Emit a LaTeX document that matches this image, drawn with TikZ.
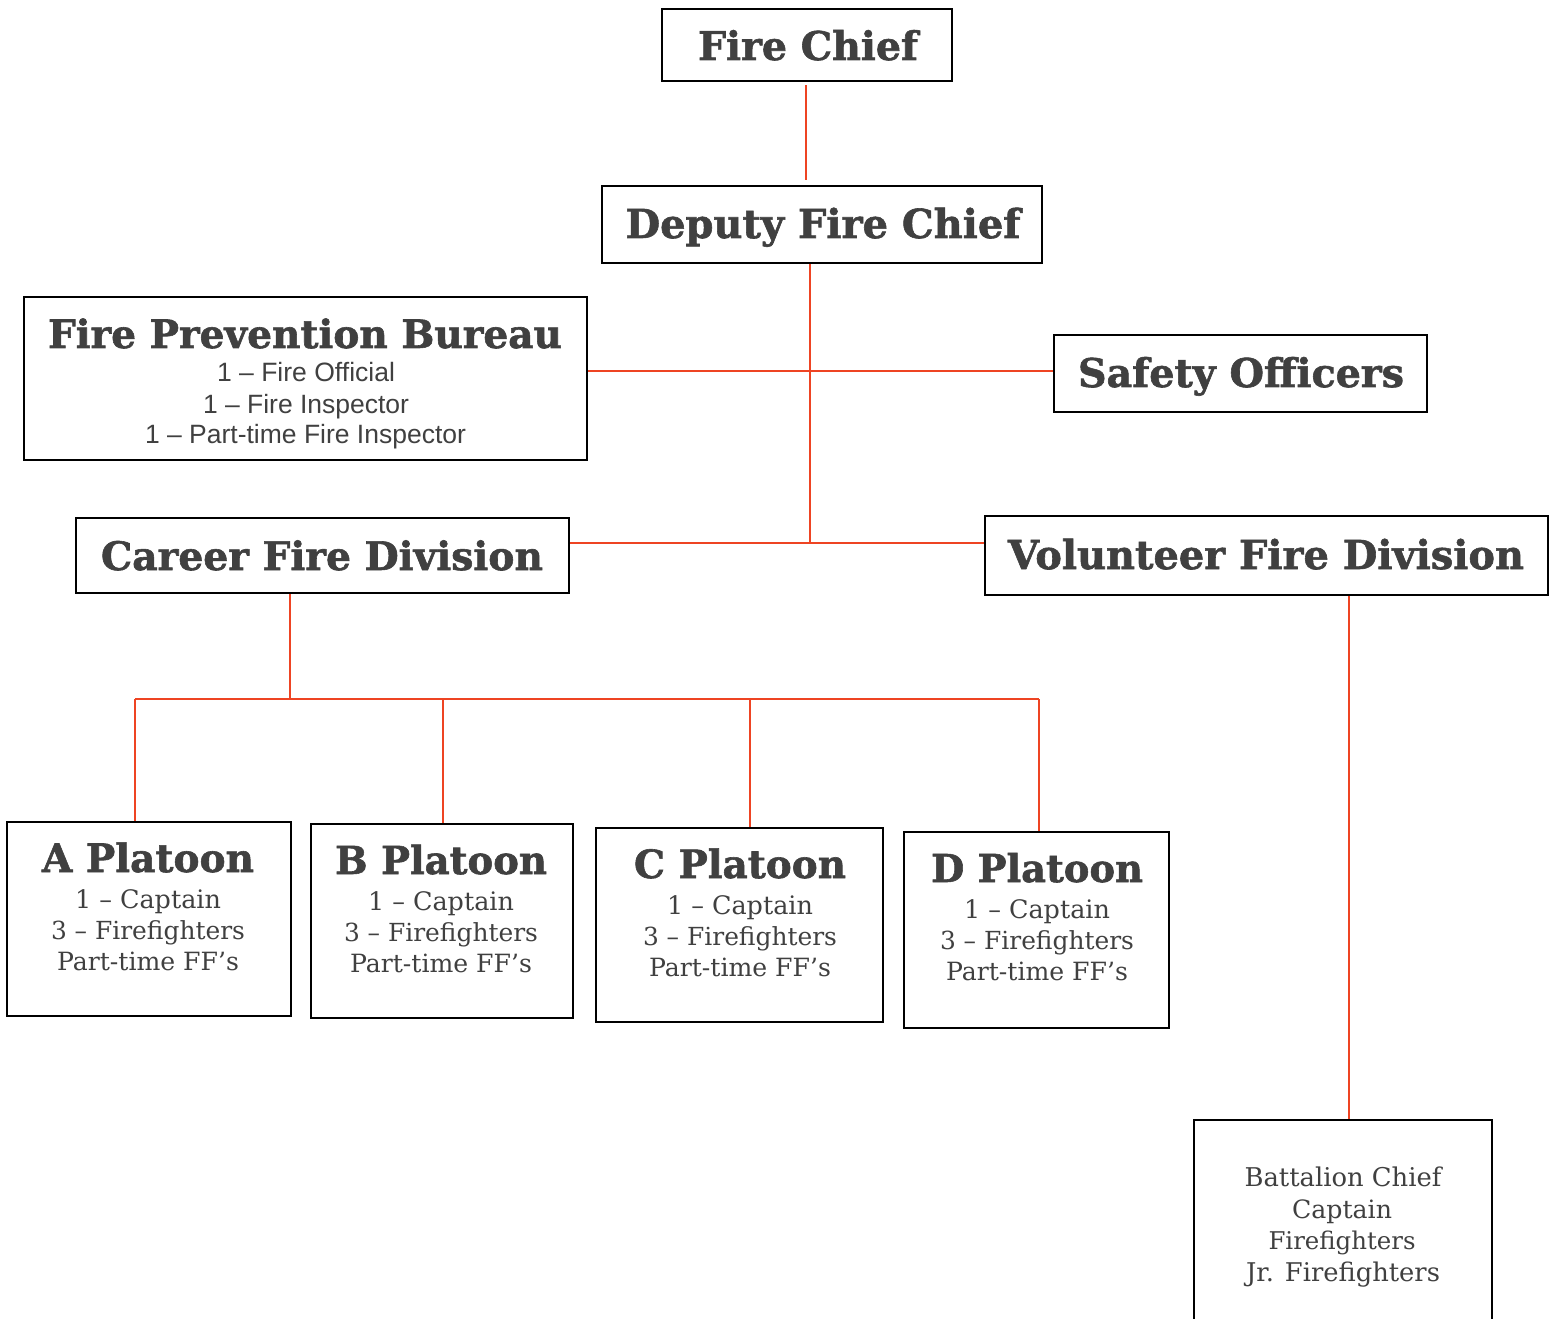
\documentclass[tikz,border=0pt]{standalone}
\usepackage{fontspec}
\setmainfont{DejaVu Serif}
\newfontfamily\serif{DejaVu Serif}
\newfontfamily\heavy{DejaVu Serif Bold}[RawFeature={embolden=1.5}]
\newfontfamily\sans{Liberation Sans}
\definecolor{linered}{HTML}{EE4423}
\definecolor{txtgray}{HTML}{404040}
\newsavebox\fitbox
\newcommand\fitw[3]{\sbox\fitbox{#2\fontsize{10pt}{12pt}\selectfont #3}%
  \pgfmathsetmacro\fitfs{7.5*#1/\wd\fitbox}%
  {#2\fontsize{\fitfs pt}{\fitfs pt}\selectfont #3}}
\newcommand\hd{\heavy}
\newcommand\bd{\serif}
\begin{document}
\begin{tikzpicture}[x=0.75pt,y=-0.75pt,
  box/.style n args={2}{draw=black,line width=1.5pt,inner sep=0pt,
     minimum width=#1*0.75pt,minimum height=#2*0.75pt},
  tx/.style={anchor=base,inner sep=0pt,text=txtgray},
  conn/.style={draw=linered,line width=1.4pt}]
\useasboundingbox (0,0) rectangle (1556,1319);
\clip (0,0) rectangle (1556,1319);
% boxes
\node[box={290}{72}]  (fc)  at (807,45) {};
\node[box={440}{77}]  (dfc) at (822,224.5) {};
\node[box={563}{163}] (fpb) at (305.5,378.5) {};
\node[box={373}{77}]  (so)  at (1240.5,373.5) {};
\node[box={493}{75}]  (cfd) at (322.5,555.5) {};
\node[box={563}{79}]  (vfd) at (1266.5,555.5) {};
\node[box={284}{194}] (pa)  at (149,919) {};
\node[box={262}{194}] (pb)  at (442,921) {};
\node[box={287}{194}] (pc)  at (739.5,925) {};
\node[box={265}{196}] (pd)  at (1036.5,930) {};
\node[box={298}{230}] (bc)  at (1343,1235) {};
% headings
\node[tx] (tfc)  at (808,60)   {\fitw{220}{\hd}{Fire Chief}};
\node[tx] (tdfc) at (823,238)  {\fitw{395}{\hd}{Deputy Fire Chief}};
\node[tx] (tfpb) at (305,348)  {\fitw{514}{\hd}{Fire Prevention Bureau}};
\node[tx] (tso)  at (1241,387) {\fitw{326}{\hd}{Safety Officers}};
\node[tx] (tcfd) at (322,570)  {\fitw{442}{\hd}{Career Fire Division}};
\node[tx] (tvfd) at (1266,569) {\fitw{516}{\hd}{Volunteer Fire Division}};
% fire prevention items
\node[tx] (f1) at (306,382) {\fitw{178}{\sans}{1 – Fire Official}};
\node[tx] (f2) at (306,413) {\fitw{206}{\sans}{1 – Fire Inspector}};
\node[tx] (f3) at (305.5,443) {\fitw{321}{\sans}{1 – Part-time Fire Inspector}};
% platoons
\foreach \n/\L/\cx/\by in {a/A/148/872, b/B/441/874, c/C/740/878, d/D/1037/882}{
  \node[tx] (h\n) at (\cx,\by) {\fitw{212}{\hd}{\L\ Platoon}};
  \node[tx] (\n1) at (\cx,\by+36) {\fitw{146}{\bd}{1 – Captain}};
  \node[tx] (\n2) at (\cx,\by+67) {\fitw{194}{\bd}{3 – Firefighters}};
  \node[tx] (\n3) at (\cx,\by+98) {\fitw{182}{\bd}{Part-time FF’s}};
}
% battalion
\node[tx] (b1) at (1343,1186) {\fitw{197}{\bd}{Battalion Chief}};
\node[tx] (b2) at (1342,1218) {\fitw{100}{\bd}{Captain}};
\node[tx] (b3) at (1342,1249) {\fitw{147}{\bd}{Firefighters}};
\node[tx] (b4) at (1343,1281) {\fitw{194}{\bd}{Jr. Firefighters}};
% junctions
\coordinate (j1) at (810,371);
\coordinate (j2) at (810,543);
\coordinate (j3) at (290,699);
\coordinate (ta) at (135,699);
\coordinate (tb) at (443,699);
\coordinate (tc) at (750,699);
\coordinate (td) at (1039,699);
\coordinate (tv) at (1349,600);
% connectors
\draw[conn] ([yshift=-2.5pt]fc.south -| 806,0) -- ([yshift=4pt]dfc.north -| 806,0);
\draw[conn] (dfc.south -| j2) -- (j2);
\draw[conn] (fpb.east |- j1) -- (so.west |- j1);
\draw[conn] (cfd.east |- j2) -- (vfd.west |- j2);
\draw[conn] (cfd.south -| j3) -- (j3);
\draw[conn] (ta) -- (td);
\draw[conn] (ta) -- (pa.north -| ta);
\draw[conn] (tb) -- (pb.north -| tb);
\draw[conn] (tc) -- (pc.north -| tc);
\draw[conn] (td) -- (pd.north -| td);
\draw[conn] (vfd.south -| tv) -- (bc.north -| tv);
\end{tikzpicture}
\end{document}
